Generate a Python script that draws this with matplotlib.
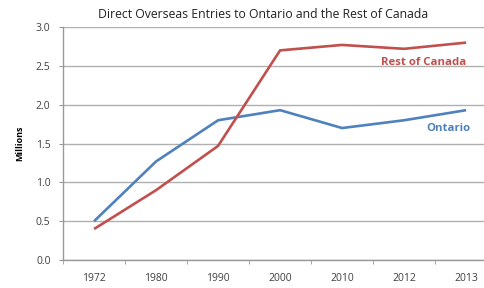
import matplotlib
matplotlib.use("Agg")
import matplotlib.pyplot as plt
import numpy as np

years = ["1972", "1980", "1990", "2000", "2010", "2012", "2013"]
ontario = [0.50, 1.27, 1.80, 1.93, 1.70, 1.80, 1.93]
rest_of_canada = [0.40, 0.90, 1.47, 2.70, 2.77, 2.72, 2.80]
yticks = [0.0, 0.5, 1.0, 1.5, 2.0, 2.5, 3.0]

red = "#c0504d"
blue = "#4f81bd"

plt.rcParams['font.family'] = ['Open Sans', 'DejaVu Sans']

fig = plt.figure(figsize=(4.85, 2.88), dpi=100)
ax = fig.add_axes([0.13, 0.097, 0.895, 0.809])

x = np.arange(len(years))
ax.plot(x, ontario, color=blue, lw=1.9, solid_capstyle='butt')
ax.plot(x, rest_of_canada, color=red, lw=1.9, solid_capstyle='butt')

ax.set_xlim(-0.5, len(years) - 0.5)
ax.set_ylim(0, 3.0)
ax.set_yticks(yticks)
ax.set_yticklabels([f"{v:.1f}" for v in yticks], fontsize=7.5, color="#404040")
ax.set_xticks(x)
ax.set_xticklabels(years, fontsize=7.5, color="#404040")
ax.set_xticks(np.arange(-0.5, len(years), 1.0), minor=True)
ax.tick_params(axis='x', which='major', length=0, pad=9)
ax.tick_params(axis='x', which='minor', length=3, color="#999999")
ax.tick_params(axis='y', length=3, color="#999999", pad=6)

ax.grid(axis='y', color="#b0b0b0", lw=1)
ax.set_axisbelow(True)
for s in ['top', 'right']:
    ax.spines[s].set_visible(False)
for s in ['left', 'bottom']:
    ax.spines[s].set_color("#999999")
    ax.spines[s].set_linewidth(1)

ax.text(5.32, 2.55, "Rest of Canada", color=red, fontsize=8.2, fontweight='bold', ha='center', va='center')
ax.text(5.71, 1.70, "Ontario", color=blue, fontsize=8.2, fontweight='bold', ha='center', va='center')

ax.set_ylabel("Millions", fontsize=6.5, fontweight='bold', labelpad=8)
fig.text(0.543, 0.948, "Direct Overseas Entries to Ontario and the Rest of Canada",
         fontsize=8.8, ha='center', va='center', color="#222222")

fig.savefig("out.png", dpi=100)
